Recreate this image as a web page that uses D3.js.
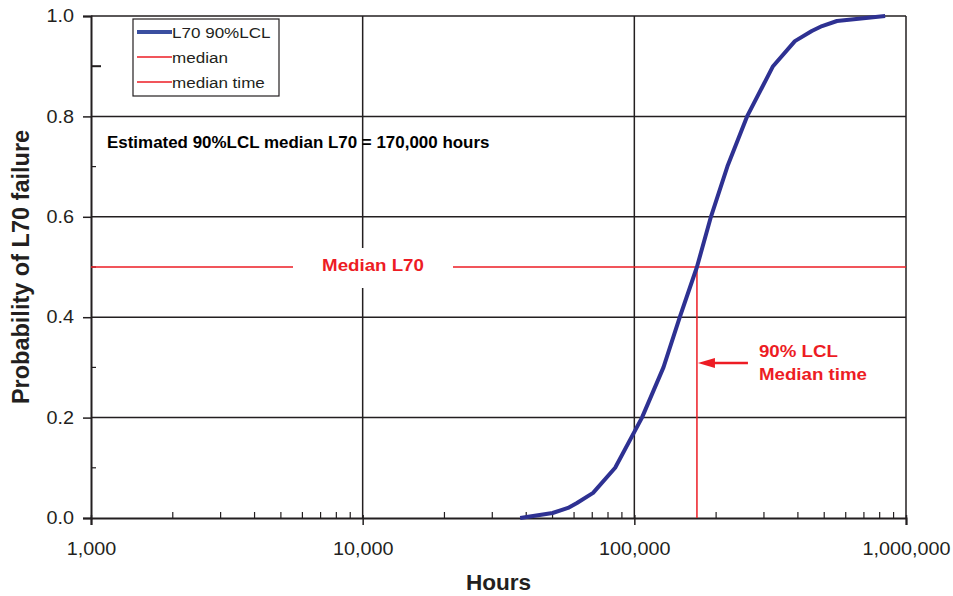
<!DOCTYPE html>
<html>
<head>
<meta charset="utf-8">
<script src="https://d3js.org/d3.v7.min.js"></script>
<style>
  body { margin: 0; background: #fff; }
  svg text { font-family: 'Liberation Sans', Arial, sans-serif; }
</style>
</head>
<body>
<div id="chart"></div>
<script>
// L70 90%LCL curve: hours vs probability of failure
const hours = [38000, 50000, 57000, 61500, 70500, 85000, 106700, 128000, 147000, 170000, 191400, 220000, 260000, 324000, 390000, 450000, 491000, 557000, 838000];
const prob = [0, 0.01, 0.02, 0.03, 0.05, 0.1, 0.2, 0.3, 0.4, 0.5, 0.6, 0.7, 0.8, 0.9, 0.95, 0.97, 0.98, 0.99, 1.0];
const medianProb = 0.5;
const medianTime = 170000;
const xTicks = [1000, 10000, 100000, 1000000];
const yTicks = [0, 0.2, 0.4, 0.6, 0.8, 1.0];
const yMinor = [0.1, 0.3, 0.5, 0.7, 0.9];
const legendItems = ['L70 90%LCL', 'median', 'median time'];

const width = 953, height = 596;
const margin = { top: 16, right: 47, bottom: 78, left: 91 };
const w = width - margin.left - margin.right;
const h = height - margin.top - margin.bottom;
const ink = '#231f20', blue = '#2e3192', red = '#ed1c24';
const stretch = 'scale(1.1,1)'; // the original lettering is a bit wide

const svg = d3.select('#chart').append('svg')
  .attr('width', width)
  .attr('height', height);

const g = svg.append('g')
  .attr('transform', 'translate(' + margin.left + ',' + margin.top + ')');

const x = d3.scaleLog().domain([1000, 1000000]).range([0, w]);
const y = d3.scaleLinear().domain([0, 1]).range([h, 0]);

// put a text at (px, py) with the wide lettering
function label(parent, str, px, py, size, opts) {
  opts = opts || {};
  return parent.append('text')
    .text(str)
    .attr('transform', 'translate(' + px + ',' + py + ') ' + (opts.scale || stretch))
    .style('text-anchor', opts.anchor || 'start')
    .style('font-size', size + 'px')
    .style('font-weight', opts.bold ? 'bold' : 'normal')
    .style('fill', opts.fill || ink);
}

// grid lines
g.selectAll('line.hgrid')
  .data(yTicks.slice(1))
  .enter().append('line')
  .attr('x1', 0).attr('x2', w)
  .attr('y1', d => y(d)).attr('y2', d => y(d))
  .style('stroke', ink).style('stroke-width', 1.5);

g.selectAll('line.vgrid')
  .data(xTicks.slice(1))
  .enter().append('line')
  .attr('x1', d => x(d)).attr('x2', d => x(d))
  .attr('y1', 0).attr('y2', h)
  .style('stroke', ink).style('stroke-width', 1.5);

// minor ticks on x (pointing up inside)
const xMinor = [];
[1000, 10000, 100000].forEach(function(dec) {
  for (let k = 2; k <= 9; k++) xMinor.push(dec * k);
});
g.selectAll('line.xminor')
  .data(xMinor)
  .enter().append('line')
  .attr('x1', d => x(d)).attr('x2', d => x(d))
  .attr('y1', h).attr('y2', h - 6)
  .style('stroke', ink).style('stroke-width', 1.2);

// minor ticks on y (pointing right inside)
g.selectAll('line.yminor')
  .data(yMinor)
  .enter().append('line')
  .attr('x1', 0).attr('x2', d => d === 0.9 ? 10 : 5)
  .attr('y1', d => y(d)).attr('y2', d => y(d))
  .style('stroke', ink).style('stroke-width', d => d === 0.9 ? 2 : 1.2);

// axes
const yAxis = d3.axisLeft(y)
  .tickValues(yTicks)
  .tickFormat(d3.format('.1f'))
  .tickSize(8);
const yG = g.append('g').call(yAxis);
yG.select('.domain').style('stroke', ink).style('stroke-width', 2);
yG.selectAll('.tick line').style('stroke', ink).style('stroke-width', 1.5);
yG.selectAll('.tick text')
  .attr('x', 0)
  .attr('transform', 'translate(-17,0) ' + stretch)
  .style('font-size', '18px').style('fill', ink)
  .style('font-family', "'Liberation Sans', Arial, sans-serif");

const xAxis = d3.axisBottom(x)
  .tickValues(xTicks)
  .tickFormat(d3.format(','))
  .tickSize(7);
const xG = g.append('g')
  .attr('transform', 'translate(0,' + h + ')')
  .call(xAxis);
xG.select('.domain').style('stroke', ink).style('stroke-width', 2);
xG.selectAll('.tick line').attr('y1', -3).style('stroke', ink).style('stroke-width', 1.5);
xG.selectAll('.tick text')
  .attr('y', 0)
  .attr('dy', '0')
  .attr('transform', 'translate(0,37) ' + stretch)
  .style('font-size', '18px').style('fill', ink)
  .style('font-family', "'Liberation Sans', Arial, sans-serif");

// median horizontal line
g.append('line')
  .attr('x1', 0).attr('x2', w)
  .attr('y1', y(medianProb)).attr('y2', y(medianProb))
  .style('stroke', red).style('stroke-width', 1.5);

// median time vertical line
g.append('line')
  .attr('x1', x(medianTime)).attr('x2', x(medianTime))
  .attr('y1', y(medianProb)).attr('y2', h)
  .style('stroke', red).style('stroke-width', 1.5);

// curve
const curve = hours.map((d, i) => ({ hours: d, p: prob[i] }));
const line = d3.line()
  .x(d => x(d.hours))
  .y(d => y(d.p));
g.append('path')
  .datum(curve)
  .attr('d', line)
  .style('fill', 'none')
  .style('stroke', blue)
  .style('stroke-width', 4)
  .style('stroke-linejoin', 'round');

// "Median L70" label with white box over the line
const mlx = 282;
g.append('rect')
  .attr('x', mlx - 80).attr('y', y(medianProb) - 19)
  .attr('width', 160).attr('height', 40)
  .style('fill', '#fff');
label(g, 'Median L70', mlx, y(medianProb) + 4, 17, { bold: true, anchor: 'middle', fill: red });

// arrow to median time
const ax = x(medianTime);
const ay = 347;
g.append('line')
  .attr('x1', ax + 14).attr('x2', ax + 51)
  .attr('y1', ay).attr('y2', ay)
  .style('stroke', red).style('stroke-width', 2.5);
g.append('path')
  .attr('d', 'M' + (ax + 1) + ',' + ay + 'L' + (ax + 18) + ',' + (ay - 5) + 'L' + (ax + 18) + ',' + (ay + 5) + 'Z')
  .style('fill', red);
label(g, '90% LCL', ax + 62, ay - 6, 17, { bold: true, fill: red });
label(g, 'Median time', ax + 62, ay + 17, 17, { bold: true, fill: red });

// estimate annotation
label(g, 'Estimated 90%LCL median L70 = 170,000 hours', 16, 132, 16,
  { bold: true, fill: '#000', scale: 'scale(1.06,1)' });

// legend
const lg = g.append('g').attr('transform', 'translate(42,3)');
lg.append('rect')
  .attr('width', 146).attr('height', 77)
  .style('fill', '#fff').style('stroke', ink).style('stroke-width', 1.2);
legendItems.forEach(function(name, i) {
  const ly = 13 + i * 25;
  lg.append('line')
    .attr('x1', 4).attr('x2', 39)
    .attr('y1', ly).attr('y2', ly)
    .style('stroke', i === 0 ? '#3a4fa0' : red)
    .style('stroke-width', i === 0 ? 4 : 1.5);
  label(lg, name, 39, ly + 6, 15.5);
});

// axis titles
label(svg, 'Hours', margin.left + w / 2, 590, 21.5, { bold: true, anchor: 'middle', scale: 'scale(1.05,1)' });

svg.append('text')
  .text('Probability of L70 failure')
  .attr('transform', 'translate(29,' + (margin.top + h / 2) + ') rotate(-90)')
  .style('text-anchor', 'middle')
  .style('font-size', '23.5px').style('font-weight', 'bold').style('fill', ink);
</script>
</body>
</html>
